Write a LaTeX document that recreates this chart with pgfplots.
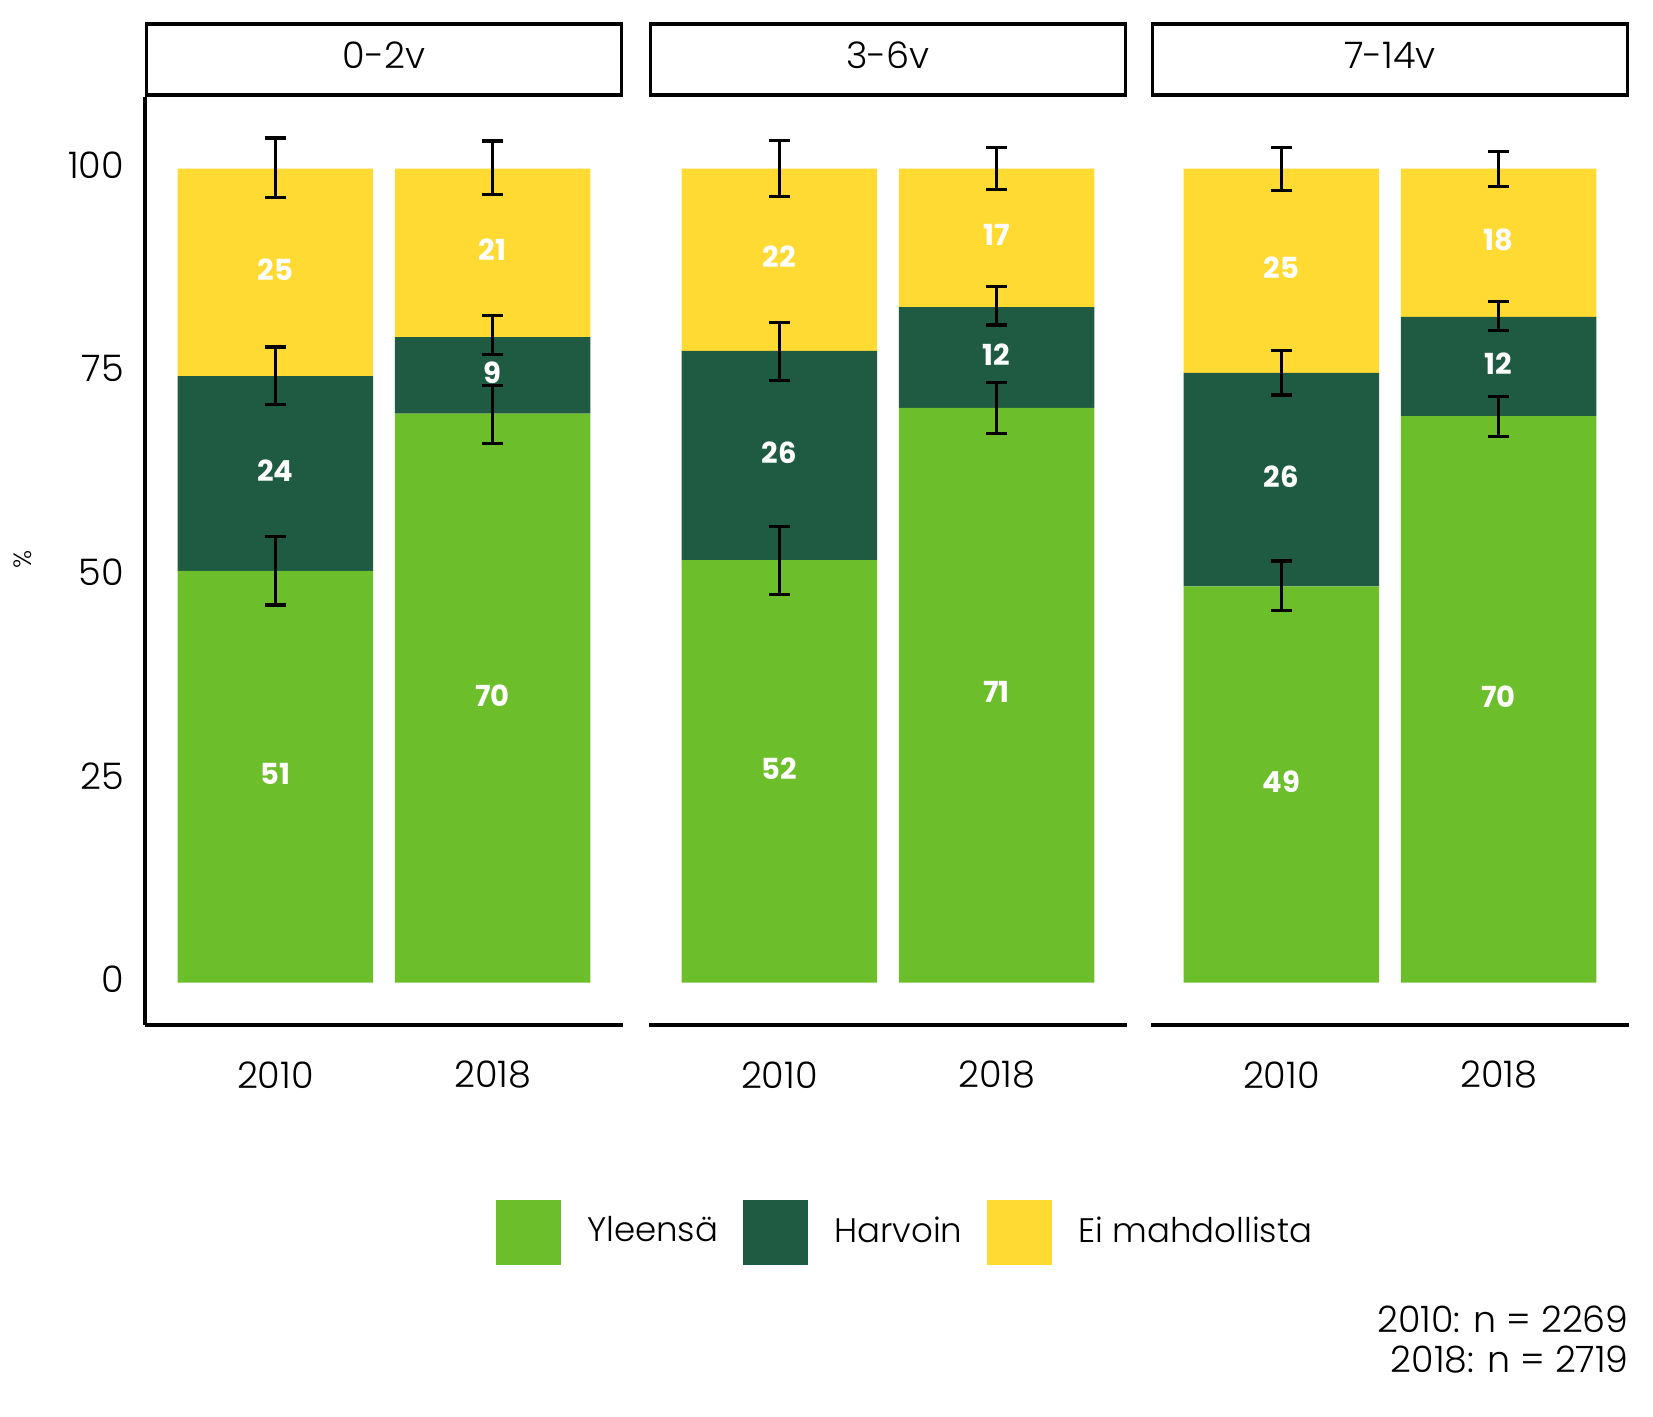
\documentclass[border=0pt]{standalone}
\usepackage{fontspec}
\setmainfont{Poppins}[UprightFont={* Light}, BoldFont={* Bold}]
\usepackage{pgfplots}
\usepackage{pgfplotstable}
\pgfplotsset{compat=1.18}
\definecolor{cY}{HTML}{6CBE2A}
\definecolor{cH}{HTML}{1F5A43}
\definecolor{cE}{HTML}{FFDA33}
\newcommand{\fs}[1]{\fontsize{#1}{#1}\selectfont}

\pgfplotstableread{
x Y H E
1 50.6 23.9 25.5
2 69.9 9.4 20.7
}\tabA
\pgfplotstableread{
x Y H E
1 51.9 25.7 22.4
2 70.6 12.4 17.0
}\tabB
\pgfplotstableread{
x Y H E
1 48.7 26.2 25.1
2 69.6 12.2 18.2
}\tabC

\pgfplotsset{
  pgeom/.style={
    anchor=south west,
    scale only axis, width=239pt, height=464pt,
    xmin=0.4, xmax=2.6, ymin=-5.19, ymax=108.8,
    /pgf/number format/assume math mode=true,
  },
  pbars/.style={
    pgeom,
    ybar stacked, bar width=0.9,
    axis x line*=bottom,
    axis line style={line width=1.6pt, black},
    major tick length=0pt,
    xtick={1,2}, xticklabels={2010,2018},
    xticklabel style={anchor=center, yshift=-25pt, inner sep=0pt, font=\fs{18.3}},
    title style={draw=black, line width=1.7pt, minimum width=237.3pt, minimum height=35.6pt,
      inner sep=0pt, outer sep=0pt, text depth=4pt, at={(0.5,1)}, anchor=south, yshift=-5.1pt, font=\fs{18.3}},
    legend image code/.code={\fill[##1] (0pt,-17.35pt) rectangle (32.5pt,15.15pt);},
  },
  pover/.style={
    pgeom, hide axis, clip=false,
  },
  ebar/.style={
    draw=none, mark=none,
    error bars/.cd, y dir=both, y explicit,
    error bar style={line width=1.6pt, draw=black},
    error mark options={rotate=90, line width=1.6pt, draw=black, mark size=5.4pt},
  },
  lbl/.style={
    draw=none, mark=none, nodes near coords, point meta=explicit symbolic,
    nodes near coords style={anchor=center, text=white, inner sep=0pt, yshift=1.5pt, font=\bfseries\fs{14.5}},
  },
}

\begin{document}
\begin{tikzpicture}
% ---------- panel 1 ----------
\begin{axis}[pbars, at={(72.5pt,196pt)}, title={0-2v},
  axis y line*=left,
  ytick={0,25,50,75,100},
  yticklabel style={anchor=east, inner sep=0pt, xshift=-10.3pt, yshift=1.7pt, font=\fs{18.3}},
  ylabel={\%},
  every axis y label/.style={at={(axis description cs:-0.2547,0.502)}, rotate=90, anchor=center, font=\fs{12.5}},
]
\addplot[fill=cY, draw=none] table[x=x,y=Y]{\tabA};
\addplot[fill=cH, draw=none] table[x=x,y=H]{\tabA};
\addplot[fill=cE, draw=none] table[x=x,y=E]{\tabA};
\end{axis}
\begin{axis}[pover, at={(72.5pt,196pt)}]
\addplot[ebar] coordinates {
  (1,50.6) +- (0,4.2) (1,74.55) +- (0,3.55) (1,100.1) +- (0,3.65)
  (2,69.8) +- (0,3.6) (2,79.6) +- (0,2.4) (2,100.1) +- (0,3.3)
};
\addplot[lbl] coordinates {
  (1,25.3) [51] (1,62.55) [24] (1,87.25) [25]
  (2,34.95) [70] (2,74.6) [9] (2,89.65) [21]
};
\end{axis}
% ---------- panel 2 ----------
\begin{axis}[pbars, at={(324.5pt,196pt)}, title={3-6v},
  axis y line=none, ytick=\empty,
  legend style={at={(-0.3197,-0.2241)}, anchor=west, draw=none, fill=none,
    inner sep=0pt, outer sep=0pt, legend columns=3, font=\fs{17},
    nodes={inner sep=0pt},
    /tikz/every odd column/.append style={column sep=13pt},
    /tikz/every even column/.append style={column sep=12.5pt}},
]
\addplot[fill=cY, draw=none] table[x=x,y=Y]{\tabB};
\addlegendentry{Yleensä}
\addplot[fill=cH, draw=none] table[x=x,y=H]{\tabB};
\addlegendentry{Harvoin}
\addplot[fill=cE, draw=none] table[x=x,y=E]{\tabB};
\addlegendentry{Ei mahdollista}
\end{axis}
\begin{axis}[pover, at={(324.5pt,196pt)}]
\addplot[ebar] coordinates {
  (1,51.85) +- (0,4.15) (1,77.55) +- (0,3.55) (1,100.05) +- (0,3.45)
  (2,70.6) +- (0,3.1) (2,83.15) +- (0,2.35) (2,100.0) +- (0,2.6)
};
\addplot[lbl] coordinates {
  (1,25.95) [52] (1,64.75) [26] (1,88.8) [22]
  (2,35.3) [71] (2,76.8) [12] (2,91.5) [17]
};
\end{axis}
% ---------- panel 3 ----------
\begin{axis}[pbars, at={(575.5pt,196pt)}, title={7-14v},
  axis y line=none, ytick=\empty,
]
\addplot[fill=cY, draw=none] table[x=x,y=Y]{\tabC};
\addplot[fill=cH, draw=none] table[x=x,y=H]{\tabC};
\addplot[fill=cE, draw=none] table[x=x,y=E]{\tabC};
\end{axis}
\begin{axis}[pover, at={(575.5pt,196pt)}]
\addplot[ebar] coordinates {
  (1,48.75) +- (0,3.05) (1,74.95) +- (0,2.75) (1,99.95) +- (0,2.65)
  (2,69.55) +- (0,2.45) (2,81.9) +- (0,1.8) (2,99.95) +- (0,2.15)
};
\addplot[lbl] coordinates {
  (1,24.35) [49] (1,61.8) [26] (1,87.45) [25]
  (2,34.8) [70] (2,75.7) [12] (2,90.9) [18]
};
\end{axis}
% ---------- caption ----------
\node[anchor=east, inner sep=0pt, font=\fs{18.2}] at (814.5pt,49pt) {2010: n = 2269};
\node[anchor=east, inner sep=0pt, font=\fs{18.2}] at (814.5pt,28.5pt) {2018: n = 2719};
\pgfresetboundingbox
\path (0pt,0pt) rectangle (826.5pt,708.5pt);
\end{tikzpicture}
\end{document}
